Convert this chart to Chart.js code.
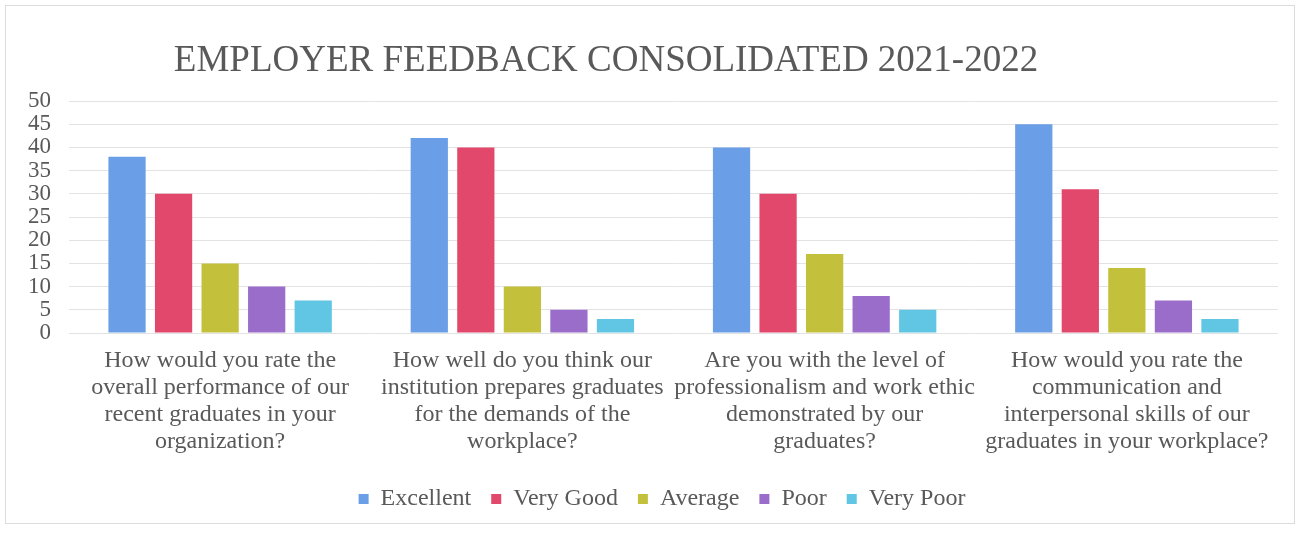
<!DOCTYPE html>
<html>
<head>
<meta charset="utf-8">
<script src="https://cdn.jsdelivr.net/npm/chart.js@4.4.1/dist/chart.umd.min.js"></script>
<style>
  html, body { margin: 0; padding: 0; background: #fff; }
  #wrap { position: relative; width: 1302px; height: 533px; }
  #frame { position: absolute; left: 5px; top: 5px; width: 1290px; height: 519px; border: 1px solid #dcdcdc; box-sizing: border-box; }
  #title {
    position: absolute; left: 0; width: 1212px; top: 37px; text-align: center;
    font-family: 'Liberation Serif', 'Times New Roman', serif; font-size: 37px; color: #595959;
  }
  canvas { position: absolute; left: 0; top: 0; }
</style>
</head>
<body>
<div id="wrap">
  <div id="frame"></div>
  <canvas id="chart" width="1302" height="533"></canvas>
  <div id="title">EMPLOYER FEEDBACK CONSOLIDATED 2021-2022</div>
</div>
<script>
'use strict';

/* ── DATA ─────────────────────────────────────────────────────── */
var questions = [
  ['How would you rate the', 'overall performance of our', 'recent graduates in your', 'organization?'],
  ['How well do you think our', 'institution prepares graduates', 'for the demands of the', 'workplace?'],
  ['Are you with the level of', 'professionalism and work ethic', 'demonstrated by our', 'graduates?'],
  ['How would you rate the', 'communication and', 'interpersonal skills of our', 'graduates in your workplace?']
];
var excellent = [38, 42, 40, 45];
var veryGood  = [30, 40, 30, 31];
var average   = [15, 10, 17, 14];
var poor      = [10, 5, 8, 7];
var veryPoor  = [7, 3, 5, 3];

var FONT = "'Liberation Serif', 'Times New Roman', serif";
var TEXT = '#595959';

function series(label, data, color) {
  return { label: label, data: data, backgroundColor: color, borderWidth: 0,
           barPercentage: 0.8, categoryPercentage: 0.77 };
}

/* nudge legend a little right of the canvas centre, as in the source */
var legendShift = {
  id: 'legendShift',
  afterLayout: function(chart) {
    if (!chart.legend) return;
    chart.legend.left += 18;
    chart.legend.right += 18;
  }
};

new Chart(document.getElementById('chart'), {
  type: 'bar',
  data: {
    labels: questions,
    datasets: [
      series('Excellent', excellent, '#6a9ee6'),
      series('Very Good', veryGood,  '#e2486c'),
      series('Average',   average,   '#c3c13c'),
      series('Poor',      poor,      '#9b6dcb'),
      series('Very Poor', veryPoor,  '#60c6e4')
    ]
  },
  options: {
    responsive: false,
    animation: false,
    layout: { padding: { top: 101, left: 10, right: 24, bottom: 12 } },
    scales: {
      x: {
        grid: { display: false },
        border: { display: false },
        afterFit: function(scale) { scale.height += 6; },  /* extra gap above legend */
        ticks: {
          maxRotation: 0, autoSkip: false, color: TEXT, padding: 6,
          font: { family: FONT, size: 24, lineHeight: 1.125 }
        }
      },
      y: {
        min: 0, max: 50,
        grid: { color: '#e3e3e3', drawTicks: false },
        border: { display: false },
        ticks: { stepSize: 5, autoSkip: false, color: TEXT, padding: 18, font: { family: FONT, size: 23 } }
      }
    },
    plugins: {
      legend: {
        position: 'bottom',
        labels: { boxWidth: 10, boxHeight: 10, padding: 20, color: TEXT, font: { family: FONT, size: 24 } }
      },
      tooltip: { enabled: false }
    }
  },
  plugins: [legendShift]
});
</script>
</body>
</html>
